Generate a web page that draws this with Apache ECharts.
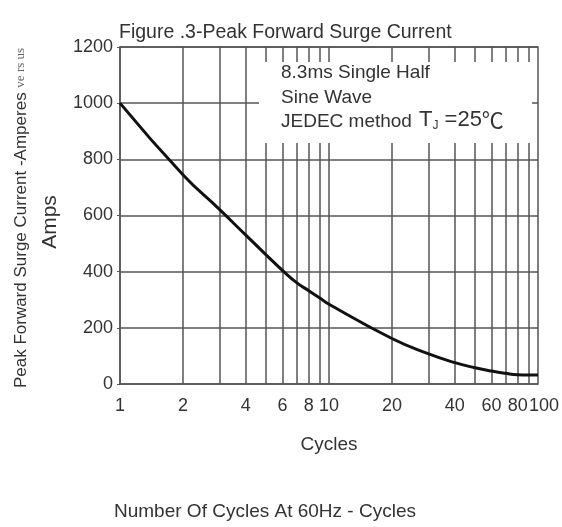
<!DOCTYPE html>
<html>
<head>
<meta charset="utf-8">
<script src="https://cdn.jsdelivr.net/npm/echarts@6/dist/echarts.min.js"></script>
<style>
  html, body { margin: 0; padding: 0; background: #fff; }
  #main { width: 562px; height: 527px; }
</style>
</head>
<body>
<div id="main"></div>
<script>
var myChart = echarts.init(document.getElementById('main'));

// 数据：周期数 与 浪涌电流 (A)
var cycles = [1, 2, 3, 4, 5, 6, 7, 8, 9, 10, 20, 30, 40, 50, 60, 70, 80, 90, 100];
var amps = [1000, 745, 621, 530, 460, 404, 361, 332, 307, 284, 162, 107, 76, 58, 46, 38, 33, 32, 32];
var xLabels = [1, 2, 4, 6, 8, 10, 20, 40, 60, 80, 100];
var xGrid = [2, 3, 4, 5, 6, 7, 8, 9, 10, 20, 30, 40, 50, 60, 70, 80, 90];

var font = 'Liberation Sans, Arial, sans-serif';
var gridColor = '#555';
var textColor = '#333';

var option = {
    animation: false,
    backgroundColor: '#fff',
    grid: {
        left: 120,
        right: 24,
        top: 47,
        bottom: 143,
        show: true,
        borderColor: gridColor,
        borderWidth: 1.5
    },
    xAxis: {
        type: 'log',
        logBase: 10,
        min: 1,
        max: 100,
        axisLine: { show: false },
        axisTick: { show: false, customValues: xGrid },
        axisLabel: {
            customValues: xLabels,
            interval: 0,
            hideOverlap: false,
            showMinLabel: true,
            showMaxLabel: true,
            alignMaxLabel: 'left',
            color: textColor,
            fontFamily: font,
            fontSize: 18,
            margin: 13,
            // 最右的 100 紧挨着 80
            formatter: function (v) {
                return Math.round(v) === 100 ? '{m|100}' : String(Math.round(v));
            },
            rich: {
                m: { width: 12, align: 'center', fontSize: 18, fontFamily: font, color: textColor }
            }
        },
        splitLine: { show: true, lineStyle: { color: gridColor, width: 1.5 } }
    },
    yAxis: {
        type: 'value',
        min: 0,
        max: 1200,
        interval: 200,
        axisLine: { show: true, lineStyle: { color: gridColor, width: 1.5 } },
        axisTick: { show: true, length: 3, lineStyle: { color: gridColor } },
        axisLabel: {
            color: textColor,
            fontFamily: font,
            fontSize: 18,
            margin: 7,
            formatter: function (v) { return String(v); }
        },
        splitLine: { show: true, lineStyle: { color: gridColor, width: 1.5 } }
    },
    series: [
        {
            type: 'line',
            data: cycles.map(function (c, i) { return [c, amps[i]]; }),
            smooth: 0.5,
            symbol: 'none',
            lineStyle: { color: '#111', width: 3 },
            z: 5
        }
    ],
    graphic: [
        // 文本框白底
        { type: 'rect', shape: { x: 259, y: 62, width: 273, height: 81 }, style: { fill: '#fff' }, z: 3 },
        { type: 'text', left: 119, top: 23, z: 4,
          style: { text: 'Figure .3-Peak Forward Surge Current', fill: textColor, font: '19.5px ' + font } },
        { type: 'text', left: 281, top: 63, z: 4,
          style: { text: '8.3ms Single Half', fill: textColor, font: '19px ' + font } },
        { type: 'text', left: 281, top: 88, z: 4,
          style: { text: 'Sine Wave', fill: textColor, font: '19px ' + font } },
        { type: 'text', left: 281, top: 112, z: 4,
          style: { text: 'JEDEC method', fill: textColor, font: '19px ' + font } },
        { type: 'text', left: 419, top: 109, z: 4,
          style: {
              text: '{t|T}{s|J}{t| =25}{c|℃}',
              fill: textColor,
              rich: {
                  t: { fontSize: 22, fontFamily: font, fill: textColor },
                  s: { fontSize: 12, fontFamily: font, fill: textColor, padding: [12, 0, 0, 0] },
                  c: { fontSize: 22, fontFamily: 'Noto Sans CJK SC', fill: textColor }
              }
          } },
        { type: 'text', x: 21, y: 218, rotation: Math.PI / 2, z: 4,
          style: {
              text: '{a|Peak Forward Surge Current -Amperes }{b|ve rs us}',
              align: 'center', verticalAlign: 'middle',
              rich: {
                  a: { fontSize: 17, fontFamily: font, fill: textColor },
                  b: { fontSize: 13, fontFamily: 'Liberation Serif, serif', fill: '#666' }
              }
          } },
        { type: 'text', x: 50, y: 222, rotation: Math.PI / 2, z: 4,
          style: { text: 'Amps', align: 'center', verticalAlign: 'middle', fill: textColor, font: '21px ' + font } },
        { type: 'text', x: 329, y: 445, z: 4,
          style: { text: 'Cycles', align: 'center', verticalAlign: 'middle', fill: textColor, font: '19px ' + font } },
        { type: 'text', left: 114, top: 502, z: 4,
          style: { text: 'Number Of Cycles At 60Hz - Cycles', fill: textColor, font: '19px ' + font } }
    ]
};

myChart.setOption(option);
</script>
</body>
</html>
